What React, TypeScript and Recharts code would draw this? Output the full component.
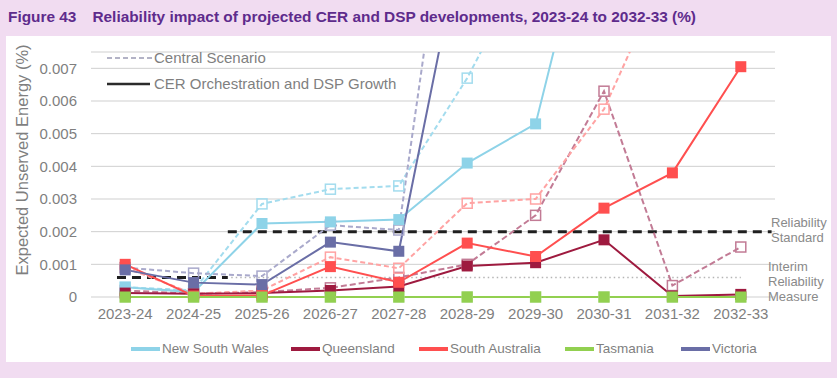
import React from 'react';
import { LineChart, Line, XAxis, YAxis, CartesianGrid, ReferenceLine } from 'recharts';

const years = ['2023-24', '2024-25', '2025-26', '2026-27', '2027-28', '2028-29', '2029-30', '2030-31', '2031-32', '2032-33'];
const yTicks = [0, 0.001, 0.002, 0.003, 0.004, 0.005, 0.006, 0.007];

// CER Orchestration and DSP Growth (solid)
const nswCer = [0.0003, 0.00015, 0.00225, 0.0023, 0.00237, 0.0041, 0.0053, 0.0137, 0.015, 0.016];
const qldCer = [0.00012, 0.0001, 0.00012, 0.0002, 0.00032, 0.00095, 0.00105, 0.00175, 0.00003, 0.00008];
const saCer = [0.001, 0.00003, 0.00005, 0.00093, 0.00045, 0.00165, 0.00124, 0.00272, 0.0038, 0.00705];
const tasCer = [0, 0, 0, 0, 0, 0, 0, 0, 0, 0];
const vicCer = [0.00083, 0.00044, 0.00038, 0.00168, 0.0014, 0.0118, 0.013, 0.014, 0.015, 0.016];

// Central Scenario (dashed)
const nswCentral = [0.0003, 0.0002, 0.00285, 0.0033, 0.0034, 0.0067, 0.0107, 0.012, 0.013, 0.014];
const qldCentral = [0.0002, 0.0001, 0.00015, 0.00028, 0.0006, 0.001, 0.0025, 0.0063, 0.00035, 0.00153];
const saCentral = [0.0009, 0.0001, 0.0002, 0.00122, 0.00088, 0.00287, 0.003, 0.00575, 0.0104, 0.012];
const tasCentral = [0, 0, 0, 0, 0, 0, 0, 0, 0, 0];
const vicCentral = [0.0009, 0.00073, 0.00064, 0.0022, 0.00205, 0.0168, 0.018, 0.019, 0.02, 0.021];

const reliabilityStandard = 0.002;
const interimMeasure = 0.0006;

const data = years.map((year, i) => ({
  x: i,
  year,
  nswCer: nswCer[i],
  qldCer: qldCer[i],
  saCer: saCer[i],
  tasCer: tasCer[i],
  vicCer: vicCer[i],
  nswCentral: nswCentral[i],
  qldCentral: qldCentral[i],
  saCentral: saCentral[i],
  tasCentral: tasCentral[i],
  vicCentral: vicCentral[i],
}));

const solid = { nsw: '#8ed3e8', qld: '#9e1a3f', sa: '#ff4f4f', tas: '#92d050', vic: '#6a6ea6' };
const light = { nsw: '#a3dcee', qld: '#c27b95', sa: '#ffa3a3', tas: '#b8e09b', vic: '#a9a9cb' };

const grey = '#7f7f7f';

function square(color: string, filled: boolean, size: number) {
  return (props: any) => {
    const { cx, cy, index } = props;
    if (cx == null || cy == null) return <g key={`s-${index}`} />;
    return (
      <rect
        key={`s-${index}`}
        x={cx - size / 2}
        y={cy - size / 2}
        width={size}
        height={size}
        fill={filled ? color : 'none'}
        stroke={color}
        strokeWidth={filled ? 0 : 1.5}
      />
    );
  };
}

const bottomLegend = [
  { name: 'New South Wales', color: solid.nsw, x: 131 },
  { name: 'Queensland', color: solid.qld, x: 291 },
  { name: 'South Australia', color: solid.sa, x: 419 },
  { name: 'Tasmania', color: solid.tas, x: 565 },
  { name: 'Victoria', color: solid.vic, x: 681 },
];

export default function App() {
  const txt: React.CSSProperties = { position: 'absolute', color: grey, whiteSpace: 'nowrap', lineHeight: 1 };
  return (
    <div
      style={{
        position: 'absolute',
        left: 0,
        top: 0,
        width: 837,
        height: 378,
        background: '#f1dcf1',
        overflow: 'hidden',
        fontFamily: '"Liberation Sans", Arial, sans-serif',
      }}
    >
      <div style={{ position: 'absolute', left: 8, top: 8, fontSize: 15.4, fontWeight: 'bold', color: '#5e2b8c', whiteSpace: 'nowrap' }}>
        <span>Figure 43</span>
        <span style={{ marginLeft: 16 }}>Reliability impact of projected CER and DSP developments, 2023-24 to 2032-33 (%)</span>
      </div>
      <div style={{ position: 'absolute', left: 6, top: 36, width: 825, height: 326, background: '#ffffff' }} />

      <div style={{ position: 'absolute', left: 0, top: 0 }}>
        <LineChart width={837} height={378} data={data} margin={{ top: 52, right: 62, left: 31, bottom: 51 }}>
          <CartesianGrid horizontal vertical={false} stroke="#cfcfcf" />
          <XAxis
            dataKey="x"
            type="number"
            domain={[-0.5, 9.5]}
            ticks={years.map((_, i) => i)}
            tickFormatter={(v: number) => years[v] ?? ''}
            axisLine={false}
            tickLine={false}
            height={30}
            tickMargin={5}
            interval={0}
            tick={{ fill: grey, fontSize: 15 }}
          />
          <YAxis
            type="number"
            domain={[0, 0.0075]}
            allowDataOverflow
            ticks={yTicks}
            tickFormatter={(v: number) => (v === 0 ? '0' : v.toFixed(3))}
            axisLine={false}
            tickLine={false}
            width={60}
            tickMargin={8}
            tick={{ fill: grey, fontSize: 15 }}
          />
          {/* same scale, no clipping: for series that stay inside the plot */}
          <YAxis yAxisId="free" type="number" domain={[0, 0.0075]} ticks={yTicks} hide />
          <ReferenceLine
            segment={[{ x: -0.12, y: interimMeasure }, { x: 1.5, y: interimMeasure }]}
            stroke="#1f1f1f"
            strokeWidth={3}
            strokeDasharray="9 6"
          />
          <ReferenceLine
            segment={[{ x: 1.5, y: reliabilityStandard }, { x: 9.45, y: reliabilityStandard }]}
            stroke="#1f1f1f"
            strokeWidth={3}
            strokeDasharray="9 6"
          />
          <ReferenceLine
            segment={[{ x: 1.55, y: interimMeasure }, { x: 9.0, y: interimMeasure }]}
            stroke="#b5b5b5"
            strokeWidth={1.5}
            strokeDasharray="1.5 3"
          />

          <Line yAxisId="free" dataKey="tasCentral" stroke={light.tas} strokeWidth={2} strokeDasharray="5 3" dot={square(light.tas, false, 10)} isAnimationActive={false} />
          <Line yAxisId="free" dataKey="qldCentral" stroke={light.qld} strokeWidth={2} strokeDasharray="6 3" dot={square(light.qld, false, 10)} isAnimationActive={false} />
          <Line dataKey="saCentral" stroke={light.sa} strokeWidth={2} strokeDasharray="5 3" dot={square(light.sa, false, 10)} isAnimationActive={false} />
          <Line dataKey="nswCentral" stroke={light.nsw} strokeWidth={2} strokeDasharray="5 3" dot={square(light.nsw, false, 10)} isAnimationActive={false} />
          <Line dataKey="vicCentral" stroke={light.vic} strokeWidth={2} strokeDasharray="5 3" dot={square(light.vic, false, 10)} isAnimationActive={false} />

          <Line dataKey="nswCer" stroke={solid.nsw} strokeWidth={2} dot={square(solid.nsw, true, 11)} isAnimationActive={false} />
          <Line yAxisId="free" dataKey="qldCer" stroke={solid.qld} strokeWidth={2} dot={square(solid.qld, true, 11)} isAnimationActive={false} />
          <Line yAxisId="free" dataKey="saCer" stroke={solid.sa} strokeWidth={2} dot={square(solid.sa, true, 11)} isAnimationActive={false} />
          <Line dataKey="vicCer" stroke={solid.vic} strokeWidth={2} dot={square(solid.vic, true, 11)} isAnimationActive={false} />
          <Line yAxisId="free" dataKey="tasCer" stroke={solid.tas} strokeWidth={2} dot={square(solid.tas, true, 11)} isAnimationActive={false} />
        </LineChart>
      </div>

      <svg style={{ position: 'absolute', left: 0, top: 0 }} width={837} height={378} pointerEvents="none">
        <line x1={107} y1={58} x2={152} y2={58} stroke="#b3b3c6" strokeWidth={2} strokeDasharray="5 3" />
        <line x1={107} y1={84} x2={150} y2={84} stroke="#2b2b2b" strokeWidth={2.5} />
        {bottomLegend.map((d) => (
          <line key={d.name} x1={d.x} y1={349} x2={d.x + 29} y2={349} stroke={d.color} strokeWidth={4} />
        ))}
      </svg>
      <div style={{ ...txt, left: 154, top: 50, fontSize: 15 }}>Central Scenario</div>
      <div style={{ ...txt, left: 154, top: 76, fontSize: 15 }}>CER Orchestration and DSP Growth</div>

      <div
        style={{
          ...txt,
          left: 22,
          top: 160,
          fontSize: 16.5,
          transform: 'translate(-50%, -50%) rotate(-90deg)',
        }}
      >
        Expected Unserved Energy (%)
      </div>

      <div style={{ ...txt, left: 771, top: 215, fontSize: 13, lineHeight: '15px', color: '#8a8a8a' }}>
        Reliability
        <br />
        Standard
      </div>
      <div style={{ ...txt, left: 768, top: 259, fontSize: 13, lineHeight: '15px', color: '#8a8a8a' }}>
        Interim
        <br />
        Reliability
        <br />
        Measure
      </div>

      {bottomLegend.map((d) => (
        <div key={d.name} style={{ ...txt, left: d.x + 31, top: 342, fontSize: 13.5 }}>
          {d.name}
        </div>
      ))}
    </div>
  );
}
